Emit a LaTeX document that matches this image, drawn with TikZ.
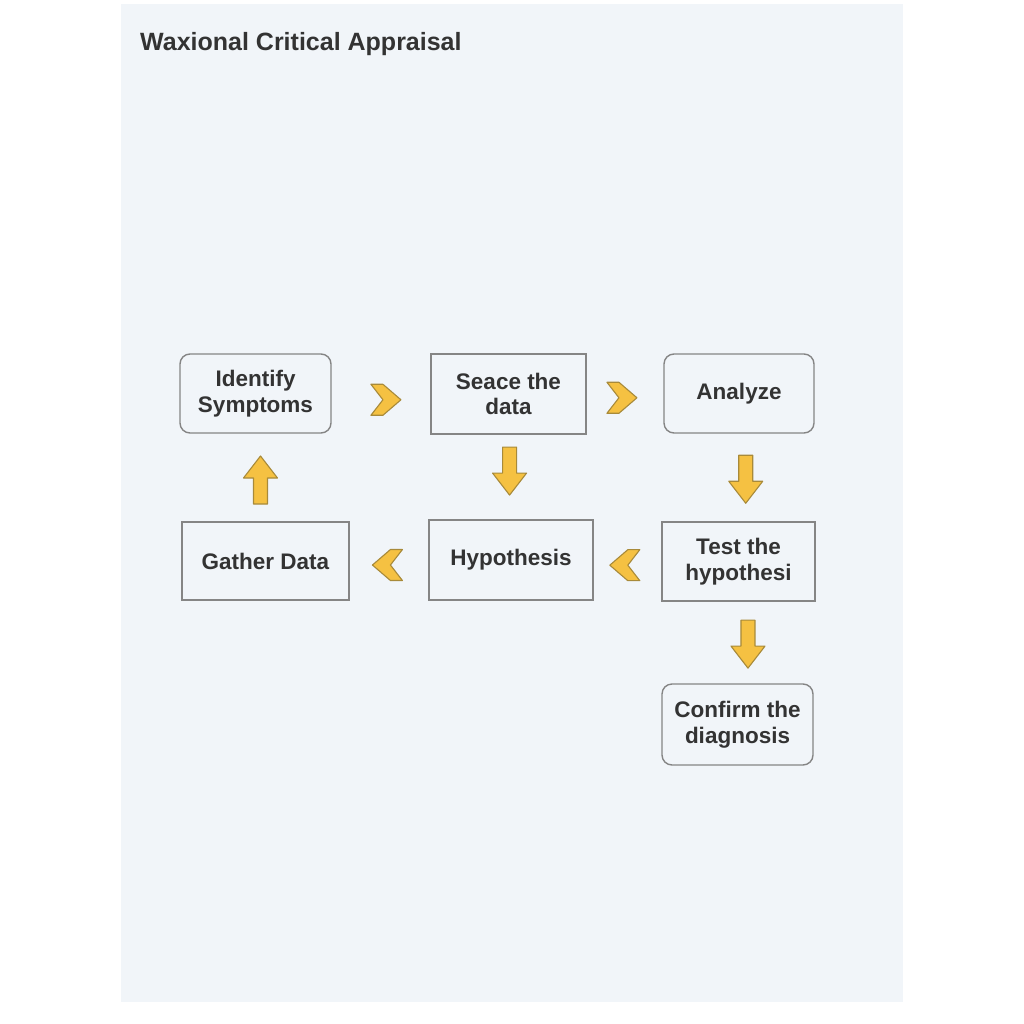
\documentclass[tikz,border=0pt]{standalone}
\usepackage{fontspec}
\setmainfont{Liberation Sans}
\usetikzlibrary{calc}
\definecolor{panelbg}{HTML}{F1F5F9}
\definecolor{boxline}{HTML}{858585}
\definecolor{txt}{HTML}{333333}
\definecolor{yfill}{HTML}{F5C142}
\definecolor{yline}{HTML}{A88A3A}
\tikzset{
  box/.style={draw=boxline, line width=1.4pt, fill=panelbg, text=txt, align=center,
    font=\bfseries\fontsize{22.5}{25.5}\selectfont, inner sep=0pt},
  rbox/.style={box, rounded corners=10pt},
  yarr/.style={fill=yfill, draw=yline, line width=1.1pt, line join=round},
  chevR/.pic={\draw[yarr] (-15,-15.5) -- (-3,-15.5) -- (15,0) -- (-3,15.5) -- (-15,15.5) -- (-3,0) -- cycle;},
  chevL/.pic={\draw[yarr] (15,-15.5) -- (3,-15.5) -- (-15,0) -- (3,15.5) -- (15,15.5) -- (3,0) -- cycle;},
  arrD/.pic={\draw[yarr] (-7,-24) -- (7,-24) -- (7,2) -- (17,2) -- (0,24) -- (-17,2) -- (-7,2) -- cycle;},
  arrU/.pic={\draw[yarr] (-7,24) -- (7,24) -- (7,-2) -- (17,-2) -- (0,-24) -- (-17,-2) -- (-7,-2) -- cycle;},
}
\begin{document}
\begin{tikzpicture}[x=1pt,y=-1pt]
\useasboundingbox (0,0) rectangle (1024,1024);
\fill[white] (0,0) rectangle (1024,1024);
\fill[panelbg] (121,4) rectangle (903,1002);
\node[anchor=base west, text=txt, font=\bfseries\fontsize{25}{28}\selectfont, inner sep=0pt] (title) at (140,51) {Waxional Critical Appraisal};

\node[rbox, minimum width=151pt, minimum height=79pt] (id) at (255.5,393.5) {Identify\\Symptoms};
\node[box,  minimum width=155pt, minimum height=80pt] (sd) at (508.5,394) {Seace the\\data};
\node[rbox, minimum width=150pt, minimum height=79pt] (an) at (739,393.5) {Analyze};
\node[box,  minimum width=167pt, minimum height=78pt] (gd) at (265.5,561) {Gather Data};
\node[box,  minimum width=164pt, minimum height=80pt] (hy) at (511,560) {Hypothesis};
\node[box,  minimum width=153pt, minimum height=79pt] (te) at (738.5,561.5) {Test the\\hypothesi};
\node[rbox, minimum width=151pt, minimum height=81pt] (cf) at (737.5,724.5) {Confirm the\\diagnosis};

\path ($(id.east)!0.55!(sd.west)$) ++(0,6) pic {chevR};
\path ($(sd.east)!0.46!(an.west)$) ++(0,4) pic {chevR};
\path ($(gd.east)!0.48!(hy.west)$) ++(0,4.5) pic {chevL};
\path ($(hy.east)!0.46!(te.west)$) ++(0,4.5) pic {chevL};
\path ($(gd.north)!0.5!(id.south)$) ++(0,2.5) pic {arrU};
\path ($(sd.south)!0.43!(hy.north)$) pic {arrD};
\path ($(an.south)!0.52!(te.north)$) ++(7,0) pic {arrD};
\path ($(te.south)!0.52!(cf.north)$) ++(10,0) pic {arrD};
\end{tikzpicture}
\end{document}
